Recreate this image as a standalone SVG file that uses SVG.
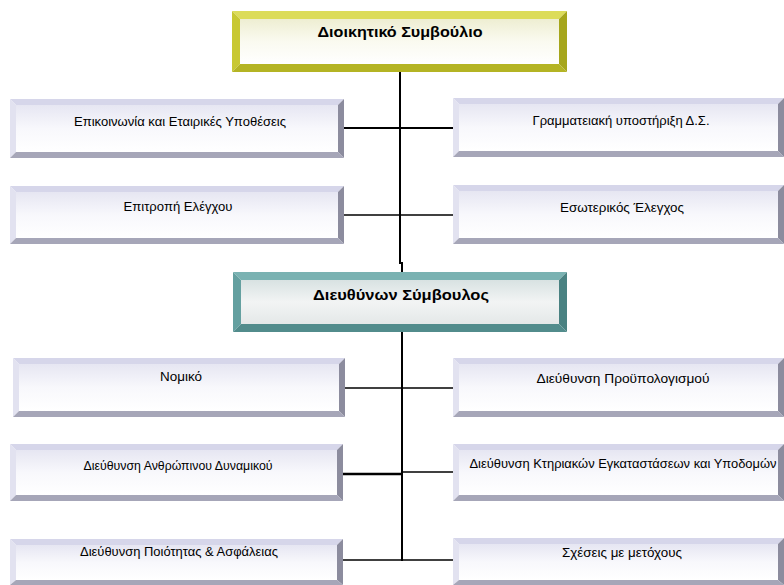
<svg xmlns="http://www.w3.org/2000/svg" width="784" height="585" viewBox="0 0 784 585">
<defs>
<linearGradient id="gFace" x1="0" y1="0" x2="0" y2="1">
<stop offset="0" stop-color="#e6e6f2"/>
<stop offset="0.5" stop-color="#f8f8fc"/>
<stop offset="1" stop-color="#ffffff"/>
</linearGradient>
<linearGradient id="yFace" x1="0" y1="0" x2="0" y2="1">
<stop offset="0" stop-color="#eeeed2"/>
<stop offset="0.5" stop-color="#fafaf0"/>
<stop offset="1" stop-color="#ffffff"/>
</linearGradient>
<linearGradient id="tFace" x1="0" y1="0" x2="0" y2="1">
<stop offset="0" stop-color="#d8e2e2"/>
<stop offset="0.5" stop-color="#f2f4f4"/>
<stop offset="1" stop-color="#e4e8e8"/>
</linearGradient>
</defs>
<style>
.gt{fill:#d6d6ea}.gl{fill:#e2e2f0}.gr{fill:#8c8c9e}.gb{fill:#a6a6b8}.gf{fill:url(#gFace)}
.yt{fill:#dcdc5a}.yl{fill:#c8c832}.yr{fill:#a6a61c}.yb{fill:#b4b424}.yf{fill:url(#yFace)}
.tt{fill:#7ab2b2}.tl{fill:#64a0a0}.tr{fill:#4a8282}.tb{fill:#528c8c}.tf{fill:url(#tFace)}
.lbl{font-family:"Liberation Sans",Arial,sans-serif;font-size:12px;fill:#000;text-anchor:middle}
.ttl{font-family:"Liberation Sans",Arial,sans-serif;font-size:14px;font-weight:bold;fill:#000;text-anchor:middle}
.cn{stroke:#000;fill:none}
</style>
<g id="connectors">
<polyline class="cn" stroke-width="2" points="400,72 400,263 402,263 402,272"/>
<line class="cn" stroke-width="2" x1="402" y1="332" x2="402" y2="561"/>
<line class="cn" stroke-width="2" x1="344" y1="128" x2="453" y2="128"/>
<line class="cn" stroke-width="1.3" x1="344" y1="215" x2="453" y2="215"/>
<line class="cn" stroke-width="1.3" x1="345" y1="388" x2="453" y2="388"/>
<line class="cn" stroke-width="2.5" x1="343" y1="474" x2="403" y2="474"/>
<line class="cn" stroke-width="1.3" x1="402" y1="472" x2="453" y2="472"/>
<line class="cn" stroke-width="1.3" x1="343" y1="560" x2="453" y2="560"/>
</g>
<g id="n-board">
<polygon class="yt" points="232,11 567,11 559,19 240,19"/>
<polygon class="yl" points="232,11 240,19 240,64 232,72"/>
<polygon class="yr" points="567,11 567,72 559,64 559,19"/>
<polygon class="yb" points="232,72 240,64 559,64 567,72"/>
<rect class="yf" x="240" y="19" width="319" height="45"/>
<text class="ttl" x="400" y="37" textLength="165" lengthAdjust="spacingAndGlyphs">Διοικητικό Συμβούλιο</text>
</g>
<g id="n-ceo">
<polygon class="tt" points="233,272 567,272 559,280 241,280"/>
<polygon class="tl" points="233,272 241,280 241,324 233,332"/>
<polygon class="tr" points="567,272 567,332 559,324 559,280"/>
<polygon class="tb" points="233,332 241,324 559,324 567,332"/>
<rect class="tf" x="241" y="280" width="318" height="44"/>
<text class="ttl" x="401" y="300" textLength="176" lengthAdjust="spacingAndGlyphs">Διευθύνων Σύμβουλος</text>
</g>
<g id="n-l1">
<polygon class="gt" points="10,99 344,99 338,105 16,105"/>
<polygon class="gl" points="10,99 16,105 16,152 10,158"/>
<polygon class="gr" points="344,99 344,158 338,152 338,105"/>
<polygon class="gb" points="10,158 16,152 338,152 344,158"/>
<rect class="gf" x="16" y="105" width="322" height="47"/>
<text class="lbl" x="180" y="126" textLength="212" lengthAdjust="spacingAndGlyphs">Επικοινωνία και Εταιρικές Υποθέσεις</text>
</g>
<g id="n-r1">
<polygon class="gt" points="453,98 784,98 778,104 459,104"/>
<polygon class="gl" points="453,98 459,104 459,151 453,157"/>
<polygon class="gr" points="784,98 784,157 778,151 778,104"/>
<polygon class="gb" points="453,157 459,151 778,151 784,157"/>
<rect class="gf" x="459" y="104" width="319" height="47"/>
<text class="lbl" x="621" y="125" textLength="177" lengthAdjust="spacingAndGlyphs">Γραμματειακή υποστήριξη Δ.Σ.</text>
</g>
<g id="n-l2">
<polygon class="gt" points="10,186 344,186 338,192 16,192"/>
<polygon class="gl" points="10,186 16,192 16,238 10,244"/>
<polygon class="gr" points="344,186 344,244 338,238 338,192"/>
<polygon class="gb" points="10,244 16,238 338,238 344,244"/>
<rect class="gf" x="16" y="192" width="322" height="46"/>
<text class="lbl" x="178" y="211" textLength="109" lengthAdjust="spacingAndGlyphs">Επιτροπή Ελέγχου</text>
</g>
<g id="n-r2">
<polygon class="gt" points="453,185 784,185 778,191 459,191"/>
<polygon class="gl" points="453,185 459,191 459,238 453,244"/>
<polygon class="gr" points="784,185 784,244 778,238 778,191"/>
<polygon class="gb" points="453,244 459,238 778,238 784,244"/>
<rect class="gf" x="459" y="191" width="319" height="47"/>
<text class="lbl" x="622" y="212" textLength="124" lengthAdjust="spacingAndGlyphs">Εσωτερικός Έλεγχος</text>
</g>
<g id="n-l3">
<polygon class="gt" points="13,358 345,358 339,364 19,364"/>
<polygon class="gl" points="13,358 19,364 19,411 13,417"/>
<polygon class="gr" points="345,358 345,417 339,411 339,364"/>
<polygon class="gb" points="13,417 19,411 339,411 345,417"/>
<rect class="gf" x="19" y="364" width="320" height="47"/>
<text class="lbl" x="181" y="381" textLength="42" lengthAdjust="spacingAndGlyphs">Νομικό</text>
</g>
<g id="n-r3">
<polygon class="gt" points="453,358 784,358 778,364 459,364"/>
<polygon class="gl" points="453,358 459,364 459,411 453,417"/>
<polygon class="gr" points="784,358 784,417 778,411 778,364"/>
<polygon class="gb" points="453,417 459,411 778,411 784,417"/>
<rect class="gf" x="459" y="364" width="319" height="47"/>
<text class="lbl" x="623" y="383" textLength="173" lengthAdjust="spacingAndGlyphs">Διεύθυνση Προϋπολογισμού</text>
</g>
<g id="n-l4">
<polygon class="gt" points="10,444 343,444 337,450 16,450"/>
<polygon class="gl" points="10,444 16,450 16,495 10,501"/>
<polygon class="gr" points="343,444 343,501 337,495 337,450"/>
<polygon class="gb" points="10,501 16,495 337,495 343,501"/>
<rect class="gf" x="16" y="450" width="321" height="45"/>
<text class="lbl" x="178" y="470" textLength="189" lengthAdjust="spacingAndGlyphs">Διεύθυνση Ανθρώπινου Δυναμικού</text>
</g>
<g id="n-r4">
<polygon class="gt" points="453,444 784,444 778,450 459,450"/>
<polygon class="gl" points="453,444 459,450 459,495 453,501"/>
<polygon class="gr" points="784,444 784,501 778,495 778,450"/>
<polygon class="gb" points="453,501 459,495 778,495 784,501"/>
<rect class="gf" x="459" y="450" width="319" height="45"/>
<text class="lbl" x="623" y="468" textLength="307" lengthAdjust="spacingAndGlyphs">Διεύθυνση Κτηριακών Εγκαταστάσεων και Υποδομών</text>
</g>
<g id="n-l5">
<polygon class="gt" points="10,539 343,539 337,545 16,545"/>
<polygon class="gl" points="10,539 16,545 16,580 10,585"/>
<polygon class="gr" points="343,539 343,585 337,580 337,545"/>
<polygon class="gb" points="10,585 16,580 337,580 343,585"/>
<rect class="gf" x="16" y="545" width="321" height="35"/>
<text class="lbl" x="179" y="556" textLength="198" lengthAdjust="spacingAndGlyphs">Διεύθυνση Ποιότητας &amp; Ασφάλειας</text>
</g>
<g id="n-r5">
<polygon class="gt" points="453,538 784,538 778,544 459,544"/>
<polygon class="gl" points="453,538 459,544 459,580 453,585"/>
<polygon class="gr" points="784,538 784,585 778,580 778,544"/>
<polygon class="gb" points="453,585 459,580 778,580 784,585"/>
<rect class="gf" x="459" y="544" width="319" height="36"/>
<text class="lbl" x="622" y="557" textLength="120" lengthAdjust="spacingAndGlyphs">Σχέσεις με μετόχους</text>
</g>
</svg>
